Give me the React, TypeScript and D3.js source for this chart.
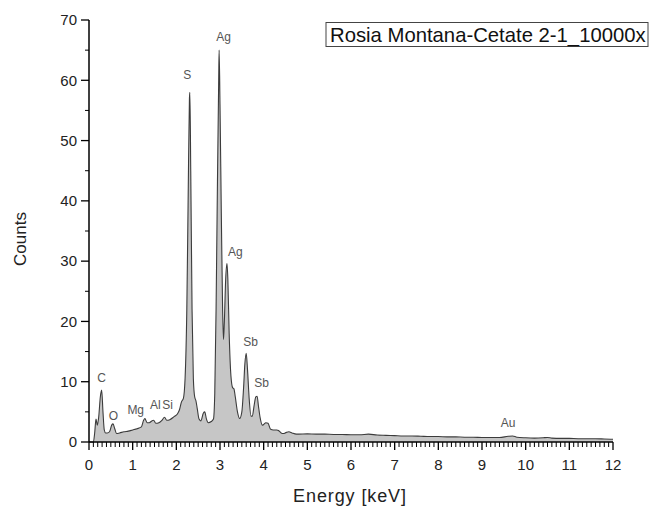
import React from "react";
import * as d3 from "d3";

const energies = [
  0.0, 0.1, 0.13, 0.16, 0.19, 0.22, 0.26, 0.29, 0.32, 0.35, 0.38, 0.42, 0.47, 0.52, 0.55, 0.59, 0.63,
  0.7, 0.8, 0.9, 1.0, 1.1, 1.2, 1.25, 1.28, 1.33, 1.38, 1.44, 1.48, 1.53, 1.6, 1.67, 1.73, 1.78, 1.85,
  1.95, 2.02, 2.07, 2.12, 2.16, 2.2, 2.24, 2.27, 2.3, 2.31, 2.33, 2.36, 2.39, 2.42, 2.45, 2.48, 2.52,
  2.56, 2.62, 2.65, 2.69, 2.73, 2.8, 2.85, 2.88, 2.91, 2.94, 2.97, 2.98, 3.0, 3.03, 3.06, 3.08, 3.1,
  3.13, 3.16, 3.18, 3.21, 3.25, 3.29, 3.32, 3.35, 3.4, 3.45, 3.5, 3.54, 3.57, 3.6, 3.63, 3.67, 3.71,
  3.74, 3.78, 3.82, 3.85, 3.88, 3.92, 3.97, 4.0, 4.05, 4.1, 4.16, 4.22, 4.3, 4.34, 4.4, 4.45, 4.52,
  4.58, 4.65, 4.75, 4.8, 5.0, 5.2, 5.4, 5.6, 5.8, 6.0, 6.2, 6.4, 6.6, 6.8, 7.0, 7.2, 7.4, 7.6, 7.8,
  8.0, 8.2, 8.4, 8.6, 8.8, 9.0, 9.2, 9.4, 9.6, 9.7, 9.8, 10.0, 10.2, 10.4, 10.5, 10.6, 10.8, 11.0,
  11.2, 11.4, 11.6, 11.8, 12.0,
];
const counts = [
  0, 0, 1.5, 3.8, 2.8, 4.0, 7.5, 8.6, 5.0, 2.0, 1.5, 1.5, 1.7, 2.8, 3.0, 2.2, 1.4,
  1.5, 1.7, 1.8, 2.0, 2.2, 2.5, 3.6, 3.9, 3.2, 3.2, 3.5, 3.6, 3.1, 3.2, 3.6, 4.1, 3.6, 3.7,
  4.2, 4.6, 5.3, 6.7, 7.2, 10.5, 22, 40, 57, 58, 45, 22, 10.5, 7.5, 6.8, 5.5, 3.8,
  3.5, 4.8, 5.0, 3.8, 3.2, 3.4, 3.8, 8, 22, 42, 60, 65, 56, 38, 22, 17, 20,
  27, 29.6, 27, 18, 11, 9, 8.8, 7.5, 5, 3.9, 5, 9, 13, 14.7, 12, 7, 4.3,
  4.3, 6, 7.5, 7.6, 6, 4, 2.8, 2.9, 3.2, 3.1, 2.1, 2.0, 2.0, 1.9, 1.5, 1.4, 1.6,
  1.7, 1.5, 1.3, 1.3, 1.35, 1.3, 1.3, 1.25, 1.25, 1.2, 1.2, 1.3, 1.15, 1.1, 1.05, 1.0, 1.0, 0.95, 0.9,
  0.9, 0.85, 0.85, 0.8, 0.8, 0.75, 0.75, 0.75, 0.95, 1.0, 0.8, 0.7, 0.65, 0.7, 0.75, 0.65, 0.6, 0.6,
  0.55, 0.55, 0.55, 0.5, 0.45,
];

const peakLabels = ["C", "O", "Mg", "Al", "Si", "S", "Ag", "Ag", "Sb", "Sb", "Au"];
const peakEnergies = [0.29, 0.56, 1.07, 1.52, 1.8, 2.25, 3.08, 3.35, 3.7, 3.95, 9.6];
const peakLabelCounts = [10.0, 3.6, 4.6, 5.4, 5.4, 60.2, 66.5, 30.8, 16.0, 9.2, 2.5];

const xTicks = [0, 1, 2, 3, 4, 5, 6, 7, 8, 9, 10, 11, 12];
const yTicks = [0, 10, 20, 30, 40, 50, 60, 70];
const title = "Rosia Montana-Cetate 2-1_10000x";

const W = 650;
const H = 507;
const FONT = "'Liberation Sans', Arial, sans-serif";

export default function App() {
  const x = d3.scaleLinear().domain([0, 12]).range([89, 613]);
  const y = d3.scaleLinear().domain([0, 70]).range([442, 20]);
  const data = energies.map((e, i) => ({ e, c: counts[i] }));

  const area = d3
    .area<{ e: number; c: number }>()
    .x((d) => x(d.e))
    .y0(y(0))
    .y1((d) => y(d.c))
    .curve(d3.curveMonotoneX);
  const line = d3
    .line<{ e: number; c: number }>()
    .x((d) => x(d.e))
    .y((d) => y(d.c))
    .curve(d3.curveMonotoneX);

  const minorX = d3.range(0, 121).map((i) => i / 10).filter((v) => Math.abs(v - Math.round(v)) > 1e-6);
  const minorY = d3.range(5, 70, 10);

  return (
    <svg
      width={W}
      height={H}
      style={{ position: "absolute", left: 0, top: 0, background: "#fff" }}
      fontFamily={FONT}
    >
      <path d={area(data) || ""} fill="#c6c6c6" stroke="none" />
      <path d={line(data) || ""} fill="none" stroke="#3c3c3c" strokeWidth={1.1} />

      {/* axes */}
      <line x1={x(0)} x2={x(12)} y1={y(0)} y2={y(0)} stroke="#000" strokeWidth={1.5} />
      <line x1={x(0)} x2={x(0)} y1={y(0)} y2={y(70)} stroke="#000" strokeWidth={1.5} />

      {xTicks.map((t) => (
        <g key={"xt" + t}>
          <line x1={x(t)} x2={x(t)} y1={y(0)} y2={y(0) + 8} stroke="#000" strokeWidth={1.3} />
          <text x={x(t)} y={470} textAnchor="middle" fontSize={15} fill="#222">
            {t}
          </text>
        </g>
      ))}
      {minorX.map((t) => (
        <line key={"xm" + t} x1={x(t)} x2={x(t)} y1={y(0)} y2={y(0) + 5} stroke="#000" strokeWidth={1} />
      ))}
      {yTicks.map((t) => (
        <g key={"yt" + t}>
          <line x1={x(0) - 8} x2={x(0)} y1={y(t)} y2={y(t)} stroke="#000" strokeWidth={1.3} />
          <text x={77} y={y(t)} dy="0.35em" textAnchor="end" fontSize={15} fill="#222">
            {t}
          </text>
        </g>
      ))}
      {minorY.map((t) => (
        <line key={"ym" + t} x1={x(0) - 4} x2={x(0)} y1={y(t)} y2={y(t)} stroke="#000" strokeWidth={1} />
      ))}

      <text x={350} y={502} textAnchor="middle" fontSize={18} letterSpacing={0.9} fill="#222">
        Energy [keV]
      </text>
      <text
        transform="translate(26,239) rotate(-90)"
        textAnchor="middle"
        fontSize={17}
        fill="#222"
      >
        Counts
      </text>

      {peakLabels.map((l, i) => (
        <text
          key={"pl" + i}
          x={x(peakEnergies[i])}
          y={y(peakLabelCounts[i])}
          textAnchor="middle"
          fontSize={12}
          fill="#555"
        >
          {l}
        </text>
      ))}

      <rect x={326} y={22.5} width={322} height={24} fill="#fff" stroke="#444" strokeWidth={1} />
      <text x={330} y={41.5} fontSize={20.3} fill="#111">
        {title}
      </text>
    </svg>
  );
}
